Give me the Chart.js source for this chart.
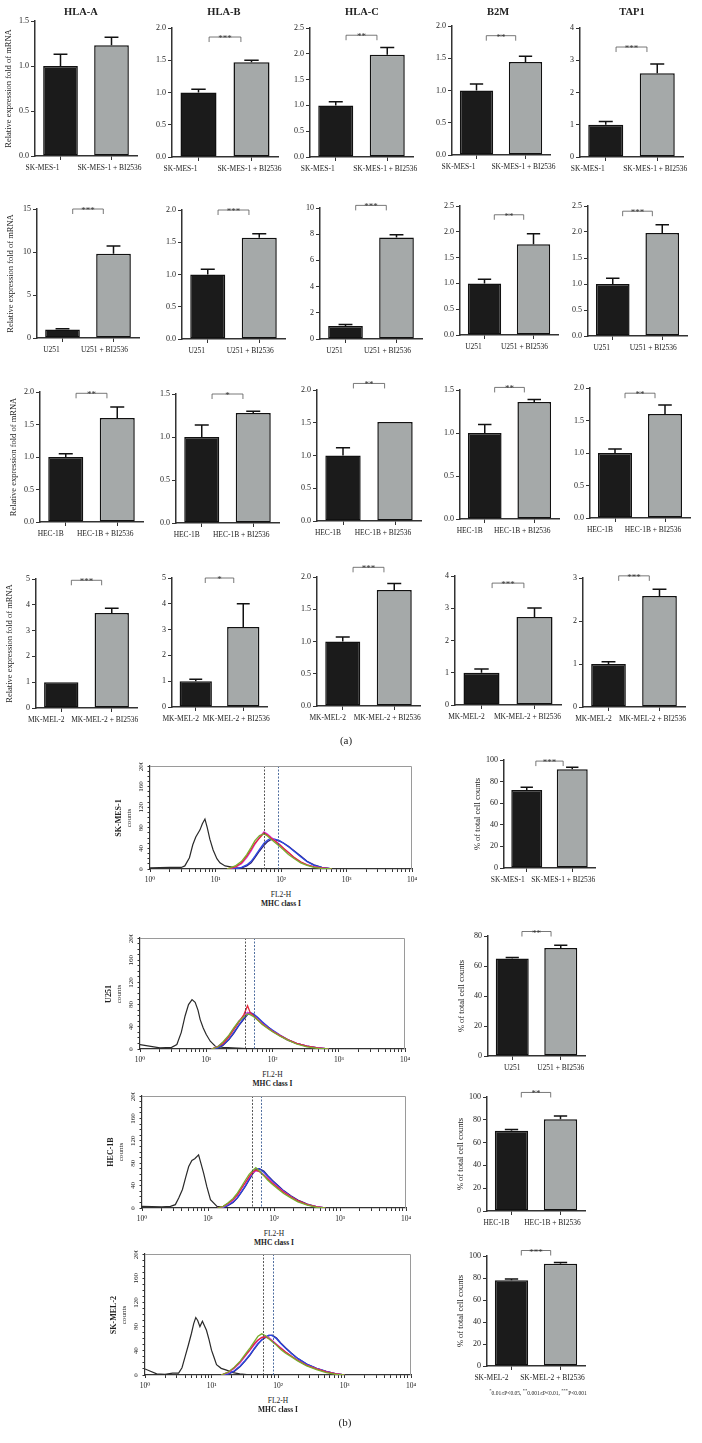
<!DOCTYPE html>
<html>
<head>
<meta charset="utf-8">
<script src="https://cdn.jsdelivr.net/npm/chart.js@4.4.0/dist/chart.umd.min.js"></script>
<style>
  body { margin: 0; background: #fff; width: 702px; height: 1443px; position: relative; overflow: hidden;
         font-family: "Liberation Serif", "DejaVu Serif", serif; color: #222; }
  canvas { position: absolute; }
  .txt { position: absolute; white-space: nowrap; text-align: center; z-index: 3; color: #222; }
</style>
</head>
<body>
<script>
// ---------- part (a): qPCR, fold of mRNA ----------
const genes = ["HLA-A", "HLA-B", "HLA-C", "B2M", "TAP1"];
const cellLinesA = ["SK-MES-1", "U251", "HEC-1B", "MK-MEL-2"];

const ctrlMean = [
  [1.0, 1.0, 1.0, 1.0, 1.0],
  [1.0, 1.0, 1.0, 1.0, 1.0],
  [1.0, 1.0, 1.0, 1.0, 1.0],
  [1.0, 1.0, 1.0, 1.0, 1.0]
];
const ctrlErr = [
  [0.13, 0.05, 0.07, 0.1, 0.1],
  [0.08, 0.08, 0.1, 0.08, 0.11],
  [0.05, 0.14, 0.12, 0.1, 0.06],
  [0, 0.08, 0.07, 0.12, 0.05]
];
const treatedMean = [
  [1.23, 1.47, 1.98, 1.44, 2.6],
  [9.8, 1.57, 7.75, 1.76, 1.98],
  [1.6, 1.28, 1.51, 1.36, 1.6],
  [3.68, 3.1, 1.8, 2.73, 2.58]
];
const treatedErr = [
  [0.09, 0.03, 0.14, 0.09, 0.28],
  [0.9, 0.06, 0.2, 0.2, 0.16],
  [0.17, 0.02, 0, 0.03, 0.14],
  [0.19, 0.9, 0.1, 0.28, 0.16]
];
const sigStars = [
  ["", "***", "**", "**", "***"],
  ["***", "***", "***", "**", "***"],
  ["**", "*", "**", "**", "**"],
  ["***", "*", "***", "***", "***"]
];
const sigLevel = [
  [0, 1.86, 2.36, 1.85, 3.41],
  [15, 2.0, 10.2, 2.33, 2.4],
  [1.98, 1.5, 2.1, 1.53, 1.92],
  [4.95, 5, 2.15, 3.78, 3.05]
];
const yMax = [
  [1.5, 2, 2.5, 2, 4],
  [15, 2, 10, 2.5, 2.5],
  [2, 1.5, 2, 1.5, 2],
  [5, 5, 2, 4, 3]
];
const yStep = [
  [0.5, 0.5, 0.5, 0.5, 1],
  [5, 0.5, 2, 0.5, 0.5],
  [0.5, 0.5, 0.5, 0.5, 0.5],
  [1, 1, 0.5, 1, 1]
];

// ---------- part (b): flow cytometry ----------
const flowLines = ["SK-MES-1", "U251", "HEC-1B", "SK-MEL-2"];
const pctCtrl = [72.3, 65, 70.3, 78];
const pctCtrlErr = [2.5, 0.7, 1.2, 1];
const pctTreated = [91.4, 72, 80.5, 93];
const pctTreatedErr = [1.8, 1.8, 2.9, 1];
const pctStars = ["***", "**", "**", "***"];
const pctSigLevel = [99, 83, 104, 105];
const pctMax = [100, 80, 100, 100];
const gates = [[55, 91], [39, 53], [46, 63], [59, 84]];

// histogram traces (FL2-H, counts)
const mesCtrlX = [1, 2, 3, 3.4, 4, 4.5, 5, 5.8, 6.3, 6.9, 7.5, 8.2, 9.2, 10.5, 11.7, 14, 18.7, 25, 40];
const mesCtrlY = [2, 3, 3, 6, 22, 47, 62, 76, 88, 97, 80, 58, 37, 20, 12, 6, 3, 1, 0];
const mesX = [15, 20, 25, 30, 35, 40, 47, 55, 62, 70, 80, 95, 110, 130, 160, 200, 250, 320, 420, 600];
const mesRed = [0, 4, 12, 25, 38, 50, 60, 70, 66, 60, 55, 47, 40, 32, 22, 14, 8, 4, 2, 0];
const mesMagenta = [0, 3, 10, 22, 35, 48, 62, 72, 68, 62, 56, 48, 40, 32, 22, 13, 8, 4, 2, 0];
const mesGreen = [0, 6, 15, 28, 42, 55, 65, 68, 64, 58, 52, 44, 37, 28, 20, 12, 7, 3, 1, 0];
const mesBlue = [0, 0, 3, 8, 15, 25, 38, 50, 56, 60, 58, 55, 50, 43, 34, 24, 14, 7, 3, 0];
const mesNavy = [0, 0, 2, 6, 12, 22, 35, 46, 53, 57, 57, 54, 50, 44, 35, 25, 15, 8, 3, 0];

const u251CtrlX = [1, 2, 3, 3.6, 4.2, 4.8, 5.4, 6.1, 6.8, 7.5, 8.1, 9, 10, 11.5, 13.7, 18, 25, 35, 50];
const u251CtrlY = [8, 2, 3, 8, 30, 60, 80, 89, 84, 70, 53, 38, 26, 14, 5, 3, 2, 1, 0];
const u251X = [12, 15, 18, 22, 26, 31, 37, 42, 46, 52, 60, 70, 85, 100, 130, 170, 230, 330, 480, 700];
const u251Red = [0, 4, 10, 22, 35, 48, 62, 78, 66, 60, 52, 45, 38, 32, 24, 17, 10, 5, 2, 0];
const u251Magenta = [0, 5, 12, 24, 36, 50, 60, 66, 64, 60, 53, 46, 38, 32, 24, 16, 10, 5, 2, 0];
const u251Green = [0, 4, 13, 25, 38, 50, 58, 63, 62, 58, 52, 44, 37, 31, 23, 16, 9, 4, 1, 0];
const u251Blue = [0, 2, 8, 18, 30, 43, 56, 63, 66, 63, 57, 49, 40, 34, 25, 17, 10, 5, 2, 0];
const u251Navy = [0, 2, 7, 17, 28, 42, 54, 62, 65, 62, 56, 48, 40, 33, 24, 16, 10, 5, 2, 0];

const hecCtrlX = [1, 2, 2.7, 3.2, 3.6, 4.1, 4.6, 5.1, 5.7, 6.3, 7.2, 7.8, 8.6, 9.6, 10.9, 13.7, 18, 30];
const hecCtrlY = [3, 2, 3, 6, 18, 33, 55, 74, 85, 88, 95, 80, 62, 38, 15, 3, 1, 0];
const hecX = [14, 17, 20, 24, 28, 32, 37, 42, 47, 53, 60, 70, 80, 95, 115, 140, 180, 230, 320, 450, 600];
const hecRed = [0, 3, 8, 15, 24, 35, 46, 56, 64, 68, 65, 58, 52, 44, 36, 28, 20, 13, 6, 2, 0];
const hecMagenta = [0, 2, 7, 14, 23, 34, 45, 55, 62, 66, 66, 60, 54, 45, 37, 29, 20, 12, 6, 2, 0];
const hecGreen = [0, 3, 9, 17, 27, 38, 50, 60, 66, 72, 66, 58, 50, 42, 34, 26, 18, 11, 5, 1, 0];
const hecBlue = [0, 1, 5, 11, 19, 29, 40, 52, 62, 70, 70, 64, 57, 48, 39, 30, 21, 13, 6, 2, 0];
const hecNavy = [0, 1, 4, 10, 18, 28, 39, 50, 60, 68, 70, 66, 58, 49, 40, 31, 22, 14, 7, 2, 0];

const melCtrlX = [1, 1.5, 2, 2.6, 3.2, 3.6, 4, 4.5, 5, 5.4, 5.8, 6.2, 6.7, 7.3, 7.8, 8.4, 9.2, 10, 11, 11.9, 14, 16.8, 21, 26.6, 40];
const melCtrlY = [10, 2, 1, 3, 3, 12, 30, 50, 69, 85, 95, 90, 80, 89, 82, 74, 58, 41, 28, 17, 11, 8, 4, 2, 0];
const melX = [14, 18, 22, 27, 32, 38, 44, 50, 57, 65, 73, 82, 95, 110, 130, 160, 200, 270, 380, 530, 750, 1000];
const melRed = [0, 5, 12, 22, 32, 42, 52, 58, 62, 63, 60, 56, 50, 44, 38, 31, 24, 16, 10, 5, 2, 0];
const melMagenta = [0, 4, 11, 20, 31, 41, 50, 57, 62, 64, 62, 57, 51, 45, 38, 31, 24, 16, 10, 5, 2, 0];
const melGreen = [0, 5, 13, 23, 34, 45, 55, 64, 68, 65, 60, 55, 49, 42, 36, 30, 23, 15, 9, 4, 1, 0];
const melBlue = [0, 2, 7, 15, 24, 34, 44, 52, 58, 63, 66, 65, 60, 52, 44, 35, 27, 18, 11, 6, 2, 0];
const melNavy = [0, 2, 6, 14, 23, 33, 43, 51, 58, 62, 65, 66, 61, 53, 45, 36, 27, 18, 11, 6, 2, 0];

// ---------- layout (pixel boxes: axis x, top y, right x, bottom y) ----------
const boxA = [
  [[35, 21, 137, 156], [172, 28, 278, 157], [310, 28, 413, 157], [452, 26, 550, 155], [580, 28, 683, 157]],
  [[37, 209, 139, 338], [182, 210, 285, 339], [320, 208, 422, 339], [460, 206, 558, 335], [588, 206, 687, 336]],
  [[40, 392, 143, 522], [176, 394, 279, 523], [317, 390, 421, 521], [460, 390, 559, 519], [590, 388, 690, 518]],
  [[36, 579, 137, 708], [172, 578, 267, 707], [317, 577, 420, 706], [455, 576, 561, 705], [583, 578, 685, 707]]
];
const labelShiftA = [[-18, -2], [-11, -9], [-15, -12], [-15, -7]];
const titleX = [81, 224, 362, 498, 632];
const boxB = [[504, 760, 595, 868], [488, 936, 585, 1056], [487, 1097, 585, 1211], [487, 1256, 585, 1366]];
const labelShiftB = [[-19, -9], [0, 0], [-15, -8], [-20, -8]];
const boxH = [[150, 766, 412, 869], [140, 938, 405, 1049], [142, 1096, 406, 1208], [145, 1254, 411, 1375]];

const SERIF = "'Liberation Serif', 'DejaVu Serif', serif";
const BLACK = "#1b1b1b";
const GREY = "#a5a9a9";
const AXIS = "#333";
Chart.defaults.font.family = SERIF;
Chart.defaults.color = "#222";

const errBarPlugin = {
  id: "errbars",
  afterDatasetsDraw(chart, args, opts) {
    if (!opts.errs) return;
    const meta = chart.getDatasetMeta(0);
    const y = chart.scales.y;
    const ctx = chart.ctx;
    ctx.save();
    ctx.strokeStyle = "#111";
    ctx.lineWidth = 1.5;
    meta.data.forEach((bar, i) => {
      const e = opts.errs[i];
      if (!e) return;
      const v = chart.data.datasets[0].data[i];
      const yTop = y.getPixelForValue(v + e);
      const half = bar.width * 0.2;
      ctx.beginPath();
      ctx.moveTo(bar.x, bar.y);
      ctx.lineTo(bar.x, yTop);
      ctx.moveTo(bar.x - half, yTop);
      ctx.lineTo(bar.x + half, yTop);
      ctx.stroke();
    });
    ctx.restore();
  }
};

const sigPlugin = {
  id: "sig",
  afterDraw(chart, args, opts) {
    if (!opts.stars) return;
    const meta = chart.getDatasetMeta(0);
    const x0 = meta.data[0].x, x1 = meta.data[1].x;
    const mid = (x0 + x1) / 2, half = (x1 - x0) * 0.3;
    const yy = chart.scales.y.getPixelForValue(opts.level);
    const ctx = chart.ctx;
    ctx.save();
    ctx.strokeStyle = "#555";
    ctx.lineWidth = 0.8;
    ctx.beginPath();
    ctx.moveTo(mid - half, yy + 5);
    ctx.lineTo(mid - half, yy);
    ctx.lineTo(mid + half, yy);
    ctx.lineTo(mid + half, yy + 5);
    ctx.stroke();
    ctx.fillStyle = "#333";
    ctx.font = "9px " + SERIF;
    ctx.textAlign = "center";
    ctx.textBaseline = "alphabetic";
    ctx.fillText(opts.stars, mid, yy + 4);
    ctx.restore();
  }
};

// category names under the bars, nudged left like the original layout
const catLabelPlugin = {
  id: "catlabels",
  afterDraw(chart, args, opts) {
    if (!opts.shift) return;
    const meta = chart.getDatasetMeta(0);
    const ctx = chart.ctx;
    const yb = chart.chartArea.bottom;
    ctx.save();
    ctx.fillStyle = "#222";
    ctx.font = "7.5px " + SERIF;
    ctx.textAlign = "center";
    ctx.textBaseline = "top";
    chart.data.labels.forEach((lab, i) => {
      ctx.fillText(lab, meta.data[i].x + opts.shift[i], yb + 8);
    });
    ctx.restore();
  }
};

const framePlugin = {
  id: "frame",
  afterDraw(chart, args, opts) {
    if (!opts.show) return;
    const a = chart.chartArea, ctx = chart.ctx;
    ctx.save();
    ctx.strokeStyle = "#9a9a9a";
    ctx.lineWidth = 1;
    ctx.beginPath();
    ctx.moveTo(a.left, a.top + 0.5);
    ctx.lineTo(a.right - 0.5, a.top + 0.5);
    ctx.lineTo(a.right - 0.5, a.bottom);
    ctx.stroke();
    ctx.restore();
  }
};

const gatePlugin = {
  id: "gates",
  afterDatasetsDraw(chart, args, opts) {
    if (!opts.values) return;
    const a = chart.chartArea, ctx = chart.ctx, x = chart.scales.x;
    const cols = ["#444", "#3d5f95"];
    ctx.save();
    ctx.lineWidth = 0.9;
    ctx.setLineDash([2, 1.5]);
    opts.values.forEach((v, i) => {
      const px = Math.round(x.getPixelForValue(v)) + 0.5;
      ctx.strokeStyle = cols[i];
      ctx.beginPath();
      ctx.moveTo(px, a.top);
      ctx.lineTo(px, a.bottom);
      ctx.stroke();
    });
    ctx.restore();
  }
};

Chart.register(errBarPlugin, sigPlugin, catLabelPlugin, framePlugin, gatePlugin);

function addCanvas(left, top, w, h) {
  const c = document.createElement("canvas");
  c.width = w;
  c.height = h;
  c.style.left = left + "px";
  c.style.top = top + "px";
  c.style.width = w + "px";
  c.style.height = h + "px";
  document.body.appendChild(c);
  return c;
}

function addText(text, cx, cy, size, bold, rotate) {
  const d = document.createElement("div");
  d.className = "txt";
  d.innerHTML = text;
  d.style.left = (cx - 100) + "px";
  d.style.width = "200px";
  d.style.top = (cy - size) + "px";
  d.style.height = (size * 2) + "px";
  d.style.lineHeight = (size * 2) + "px";
  d.style.fontSize = size + "px";
  if (bold) d.style.fontWeight = "bold";
  if (rotate) d.style.transform = "rotate(-90deg)";
  document.body.appendChild(d);
}

function barPanel(box, labels, shift, means, errs, stars, level, ymax, step, ytitle) {
  const [ax, ty, rx, by] = box;
  const W = 34, PT = 30, PR = 16, H = 22;
  const cv = addCanvas(ax - W, ty - PT, rx - ax + W + PR, by - ty + PT + H);
  return new Chart(cv, {
    type: "bar",
    data: {
      labels: labels,
      datasets: [{
        data: means,
        backgroundColor: [BLACK, GREY],
        borderColor: "#111",
        borderWidth: 1.5,
        borderSkipped: false,
        barPercentage: 0.68,
        categoryPercentage: 1
      }]
    },
    options: {
      responsive: false,
      animation: false,
      layout: { padding: { top: PT, right: PR, left: 0, bottom: 0 } },
      plugins: {
        legend: { display: false },
        tooltip: { enabled: false },
        errbars: { errs: errs },
        sig: { stars: stars, level: level },
        catlabels: { shift: shift }
      },
      scales: {
        x: {
          grid: { offset: false, drawOnChartArea: false, tickLength: 4, color: AXIS },
          border: { color: AXIS, width: 1.5 },
          ticks: { display: false },
          afterFit: (s) => { s.height = H; s.paddingLeft = 0; s.paddingRight = 0; }
        },
        y: {
          min: 0,
          max: ymax,
          grid: { drawOnChartArea: false, tickLength: 4, color: AXIS },
          border: { color: AXIS, width: 1.5 },
          ticks: {
            stepSize: step,
            font: { size: 8 },
            padding: 2,
            callback: (v) => (step < 1 ? v.toFixed(1) : v)
          },
          title: { display: !!ytitle, text: ytitle || "", font: { size: 8.5 }, padding: { top: 3, bottom: 0 } },
          afterFit: (s) => { s.width = W; s.paddingTop = 0; s.paddingBottom = 0; }
        }
      }
    }
  });
}

const sup = ["\u2070", "\u00b9", "\u00b2", "\u00b3", "\u2074"];

function histPanel(box, ctrlX, ctrlY, xs, traces, gateVals) {
  const [ax, ty, rx, by] = box;
  const W = 14, PT = 4, PR = 8, H = 16;
  const cv = addCanvas(ax - W, ty - PT, rx - ax + W + PR, by - ty + PT + H);
  const colors = ["#78ad2e", "#e5263a", "#d43be0", "#2b47e2", "#2c1f7c"];
  const datasets = traces.map((ys, k) => ({
    data: xs.map((x, i) => ({ x: x, y: ys[i] })),
    borderColor: colors[k],
    borderWidth: 1.3,
    showLine: true,
    pointRadius: 0
  }));
  datasets.push({
    data: ctrlX.map((x, i) => ({ x: x, y: ctrlY[i] })),
    borderColor: "#2a2a2a",
    borderWidth: 1.2,
    showLine: true,
    pointRadius: 0
  });
  return new Chart(cv, {
    type: "scatter",
    data: { datasets: datasets },
    options: {
      responsive: false,
      animation: false,
      layout: { padding: { top: PT, right: PR, left: 0, bottom: 0 } },
      plugins: {
        legend: { display: false },
        tooltip: { enabled: false },
        frame: { show: true },
        gates: { values: gateVals }
      },
      scales: {
        x: {
          type: "logarithmic",
          min: 1,
          max: 10000,
          afterBuildTicks: (s) => {
            const t = [];
            for (let d = 0; d < 4; d++) {
              for (let m = 1; m < 10; m++) t.push({ value: m * Math.pow(10, d) });
            }
            t.push({ value: 10000 });
            s.ticks = t;
          },
          grid: { drawOnChartArea: false, tickLength: 3, color: AXIS },
          border: { color: AXIS, width: 1.2 },
          ticks: {
            font: { size: 7.5 },
            padding: 4,
            autoSkip: false,
            maxRotation: 0,
            callback: (v) => {
              const l = Math.log10(v);
              return Math.abs(l - Math.round(l)) < 1e-6 ? "10" + sup[Math.round(l)] : "";
            }
          },
          afterFit: (s) => { s.height = H; s.paddingLeft = 0; s.paddingRight = 0; }
        },
        y: {
          min: 0,
          max: 200,
          afterBuildTicks: (s) => {
            const t = [];
            for (let v = 0; v <= 200; v += 10) t.push({ value: v });
            s.ticks = t;
          },
          grid: { drawOnChartArea: false, tickLength: 2.5, color: AXIS },
          border: { color: AXIS, width: 1.2 },
          ticks: {
            font: { size: 7 },
            padding: 1,
            autoSkip: false,
            minRotation: 90,
            maxRotation: 90,
            crossAlign: "center",
            callback: (v) => (v % 40 === 0 ? v : "")
          },
          afterFit: (s) => { s.width = W; s.paddingTop = 0; s.paddingBottom = 0; }
        }
      }
    }
  });
}

// ---------- draw part (a) ----------
genes.forEach((g, j) => addText(g, titleX[j], 11, 10.5, true, false));
for (let r = 0; r < 4; r++) {
  for (let j = 0; j < 5; j++) {
    barPanel(
      boxA[r][j],
      [cellLinesA[r], cellLinesA[r] + " + BI2536"],
      labelShiftA[r],
      [ctrlMean[r][j], treatedMean[r][j]],
      [ctrlErr[r][j], treatedErr[r][j]],
      sigStars[r][j],
      sigLevel[r][j],
      yMax[r][j],
      yStep[r][j],
      j === 0 ? "Relative expression fold of mRNA" : ""
    );
  }
}
addText("(a)", 346, 740, 11, false, false);

// ---------- draw part (b) ----------
const histCtrlX = [mesCtrlX, u251CtrlX, hecCtrlX, melCtrlX];
const histCtrlY = [mesCtrlY, u251CtrlY, hecCtrlY, melCtrlY];
const histX = [mesX, u251X, hecX, melX];
const histTraces = [
  [mesGreen, mesRed, mesMagenta, mesBlue, mesNavy],
  [u251Green, u251Red, u251Magenta, u251Blue, u251Navy],
  [hecGreen, hecRed, hecMagenta, hecBlue, hecNavy],
  [melGreen, melRed, melMagenta, melBlue, melNavy]
];
for (let k = 0; k < 4; k++) {
  const [ax, ty, rx, by] = boxH[k];
  histPanel(boxH[k], histCtrlX[k], histCtrlY[k], histX[k], histTraces[k], gates[k]);
  const cy = (ty + by) / 2;
  addText(flowLines[k], ax - 31, cy, 8, true, true);
  addText("counts", ax - 21, cy, 7, false, true);
  const cx = (ax + rx) / 2;
  addText("FL2-H", cx, by + 25, 7.5, false, false);
  addText("MHC class I", cx, by + 34, 7.5, true, false);

  barPanel(
    boxB[k],
    [flowLines[k], flowLines[k] + " + BI2536"],
    labelShiftB[k],
    [pctCtrl[k], pctTreated[k]],
    [pctCtrlErr[k], pctTreatedErr[k]],
    pctStars[k],
    pctSigLevel[k],
    pctMax[k],
    20,
    "% of total cell counts"
  );
}
addText("<sup>*</sup>0.01\u2264P&lt;0.05, <sup>**</sup>0.001\u2264P&lt;0.01, <sup>***</sup>P&lt;0.001", 538, 1390, 5.5, false, false);
addText("(b)", 345, 1422, 11, false, false);
</script>
</body>
</html>
